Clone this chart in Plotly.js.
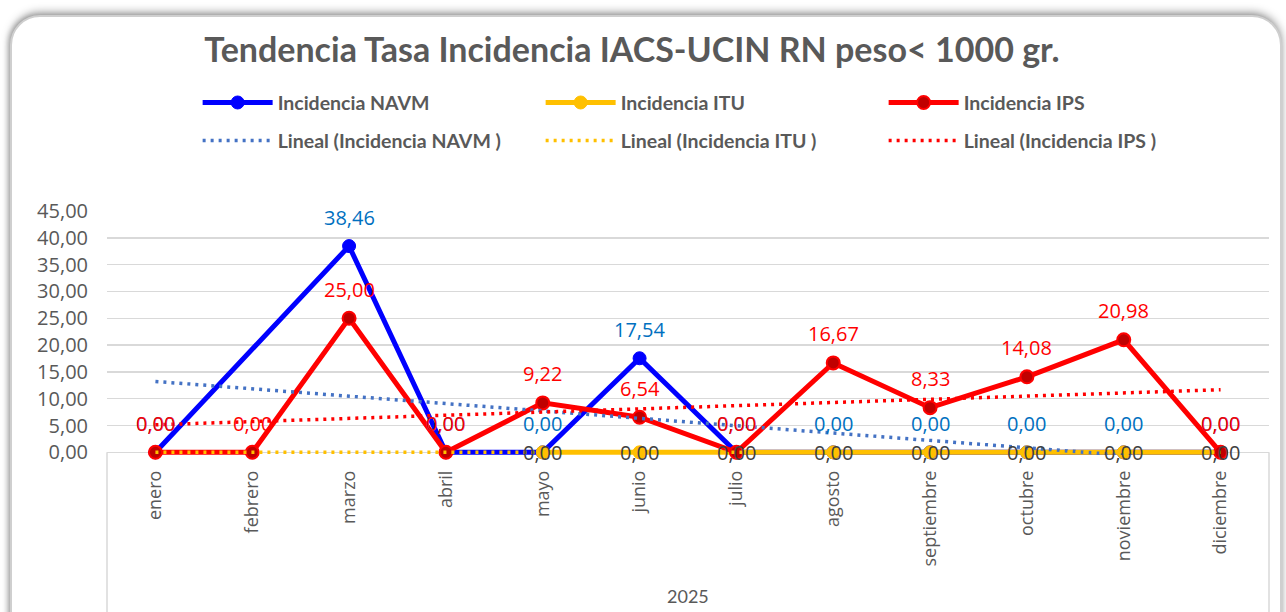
<!DOCTYPE html>
<html>
<head>
<meta charset="utf-8">
<script src="https://cdn.plot.ly/plotly-3.0.1.min.js"></script>
<style>
  html, body { margin: 0; padding: 0; background: #ffffff; width: 1286px; height: 612px; overflow: hidden; }
  #frame {
    position: absolute; left: 10px; top: 15px; width: 1268px; height: 640px;
    border: 2px solid #cfcfcf; border-radius: 30px; background: #ffffff;
    box-shadow: 0 -3px 9px rgba(0,0,0,0.35), -2px 0 5px rgba(0,0,0,0.2);
  }
  #chart { position: absolute; left: 0; top: 0; width: 1286px; height: 612px; }
</style>
</head>
<body>
<div id="frame"></div>
<div id="chart"></div>
<script>
// ---- data ----
const months = ['enero', 'febrero', 'marzo', 'abril', 'mayo', 'junio', 'julio', 'agosto', 'septiembre', 'octubre', 'noviembre', 'diciembre'];
const navm = [0, null, 38.46, 0, 0, 17.54, 0, 0, 0, 0, 0, 0];
const itu  = [null, null, null, null, 0, 0, 0, 0, 0, 0, 0, 0];
const ips  = [0, 0, 25.00, 0, 9.22, 6.54, 0, 16.67, 8.33, 14.08, 20.98, 0];
const seriesNames = ['Incidencia NAVM', 'Incidencia ITU', 'Incidencia IPS'];
const trendNames = ['Lineal (Incidencia NAVM )', 'Lineal (Incidencia ITU )', 'Lineal (Incidencia IPS )'];
const groupLabel = '2025';
const titleText = 'Tendencia Tasa Incidencia IACS-UCIN RN peso< 1000 gr.';

// linear trend (least squares on month index, as a spreadsheet trendline does)
function linearTrend(vals) {
  const pts = [];
  vals.forEach((v, i) => { if (v !== null) pts.push([i + 1, v]); });
  const n = pts.length;
  const mx = pts.reduce((s, p) => s + p[0], 0) / n;
  const my = pts.reduce((s, p) => s + p[1], 0) / n;
  let sxy = 0, sxx = 0;
  pts.forEach(p => { sxy += (p[0] - mx) * (p[1] - my); sxx += (p[0] - mx) * (p[0] - mx); });
  const b = sxx === 0 ? 0 : sxy / sxx;
  const a = my - b * mx;
  return vals.map((v, i) => a + b * (i + 1));
}

const fmt = v => v.toFixed(2).replace('.', ',');

const colors = { navm: '#0000FF', itu: '#FFC000', ips: '#FF0000' };
const trendColors = { navm: '#4472C4', itu: '#FFC000', ips: '#FF0000' };
const labelColors = { navm: '#0070C0', itu: '#404040', ips: '#FF0000' };

const dotDash = '3px,5px';

const traces = [
  { x: months, y: navm, name: seriesNames[0], type: 'scatter', mode: 'lines+markers', connectgaps: true,
    line: { color: colors.navm, width: 5 }, marker: { color: colors.navm, size: 13, line: { color: colors.navm, width: 1 } },
    legend: 'legend', cliponaxis: false },
  { x: months, y: itu, name: seriesNames[1], type: 'scatter', mode: 'lines+markers', connectgaps: false,
    line: { color: colors.itu, width: 5 }, marker: { color: colors.itu, size: 13, line: { color: colors.itu, width: 1 } },
    legend: 'legend', cliponaxis: false },
  { x: months, y: ips, name: seriesNames[2], type: 'scatter', mode: 'lines+markers', connectgaps: true,
    line: { color: colors.ips, width: 5 }, marker: { color: '#C00000', size: 13, line: { color: colors.ips, width: 2 } },
    legend: 'legend', cliponaxis: false },
  { x: months, y: linearTrend(navm), name: trendNames[0], type: 'scatter', mode: 'lines',
    line: { color: trendColors.navm, width: 3.5, dash: dotDash }, legend: 'legend2' },
  { x: months, y: linearTrend(itu), name: trendNames[1], type: 'scatter', mode: 'lines',
    line: { color: trendColors.itu, width: 3.5, dash: dotDash }, legend: 'legend2' },
  { x: months, y: linearTrend(ips), name: trendNames[2], type: 'scatter', mode: 'lines',
    line: { color: trendColors.ips, width: 3.5, dash: dotDash }, legend: 'legend2' }
];

// data labels
const annotations = [];
function addLabels(vals, color, shift) {
  vals.forEach((v, i) => {
    if (v === null) return;
    annotations.push({ x: months[i], y: v, xref: 'x', yref: 'y', text: fmt(v), showarrow: false,
      yshift: shift, font: { family: 'Open Sans', size: 20, color: color } });
  });
}
addLabels(navm, labelColors.navm, 29);
addLabels(itu, labelColors.itu, 0);
addLabels(ips, labelColors.ips, 29);

annotations.push({ x: 0.5, y: -0.578, xref: 'paper', yref: 'paper', text: groupLabel, showarrow: false,
  yanchor: 'middle', font: { family: 'Lato', size: 18, color: '#595959' } });

const yMin = -0.5, yMax = 45;
const zeroPaper = (0 - yMin) / (yMax - yMin);

const legendCommon = {
  orientation: 'h', x: 0.078, xanchor: 'left', yref: 'container', yanchor: 'middle',
  itemwidth: 70, entrywidth: 258, entrywidthmode: 'pixels',
  font: { family: 'Lato', size: 19.5, color: '#595959', weight: 'bold' },
  bgcolor: 'rgba(0,0,0,0)', traceorder: 'normal'
};

const layout = {
  width: 1286, height: 612,
  margin: { l: 107, r: 17, t: 211, b: 157 },
  paper_bgcolor: 'rgba(0,0,0,0)', plot_bgcolor: 'rgba(0,0,0,0)',
  separators: ',.',
  title: { text: titleText, x: 0.4914, xref: 'container', xanchor: 'center', y: 0.918, yref: 'container', yanchor: 'middle',
    font: { family: 'Lato', size: 34, color: '#595959', weight: 'bold' } },
  legend: Object.assign({}, legendCommon, { y: 0.832 }),
  legend2: Object.assign({}, legendCommon, { y: 0.770 }),
  xaxis: { type: 'category', range: [-0.5, months.length - 0.5], tickangle: -90, showgrid: false, showline: false, zeroline: false, ticks: '',
    tickfont: { family: 'Open Sans', size: 18, color: '#595959' }, ticklabelstandoff: 11 },
  yaxis: { range: [yMin, yMax], tick0: 0, dtick: 5, tickformat: '.2f', showgrid: true, gridcolor: '#D9D9D9', gridwidth: 1.5,
    zeroline: false, showline: false, ticks: '', tickfont: { family: 'Open Sans', size: 20, color: '#595959' }, ticklabelstandoff: 18 },
  shapes: [
    { type: 'line', xref: 'paper', yref: 'paper', x0: 0, x1: 0, y0: zeroPaper, y1: -0.66, line: { color: '#D9D9D9', width: 1.5 } },
    { type: 'line', xref: 'paper', yref: 'paper', x0: 1, x1: 1, y0: zeroPaper, y1: -0.66, line: { color: '#D9D9D9', width: 1.5 } }
  ],
  annotations: annotations,
  showlegend: true
};

Plotly.newPlot('chart', traces, layout, { displayModeBar: false, staticPlot: true });
</script>
</body>
</html>
